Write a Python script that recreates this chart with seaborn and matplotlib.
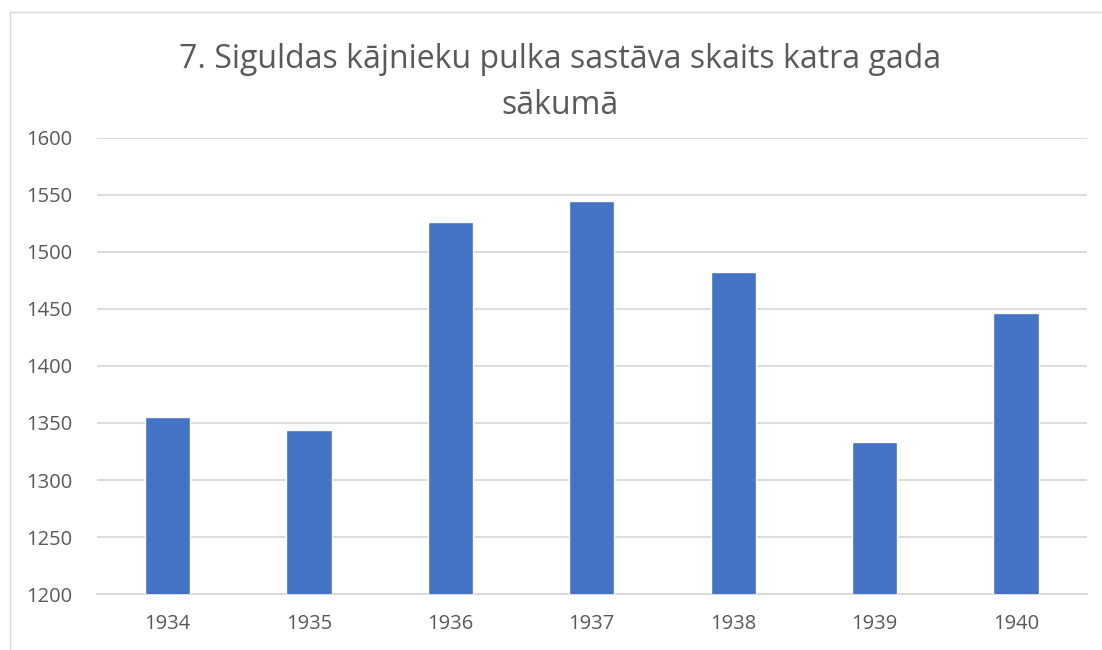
import matplotlib
matplotlib.use("Agg")
import matplotlib.pyplot as plt
import pandas as pd
import seaborn as sns

years = ["1934", "1935", "1936", "1937", "1938", "1939", "1940"]
counts = [1355, 1344, 1526, 1545, 1482, 1333, 1446]
title = "7. Siguldas kājnieku pulka sastāva skaits katra gada\nsākumā"

df = pd.DataFrame({"year": years, "count": counts})

sns.set_style("white")
plt.rcParams["font.family"] = ["Open Sans", "DejaVu Sans"]

fig = plt.figure(figsize=(11.02, 6.5), dpi=100)
ax = fig.add_axes([0.088, 0.086, 0.898, 0.702])

sns.barplot(data=df, x="year", y="count", color="#4472C4", width=0.32,
            saturation=1, ax=ax, zorder=3)

ax.set_ylim(1200, 1600)
ax.set_yticks(range(1200, 1601, 50))
ax.yaxis.grid(True, color="#D9D9D9", linewidth=1.3, zorder=0)
ax.set_axisbelow(True)
for s in ["top", "right", "left"]:
    ax.spines[s].set_visible(False)
ax.spines["bottom"].set_color("#D9D9D9")
ax.spines["bottom"].set_linewidth(1.3)
ax.tick_params(axis="both", length=0, labelsize=14.5, labelcolor="#595959")
ax.tick_params(axis="x", pad=14)
ax.tick_params(axis="y", pad=18)
ax.set_xlabel("")
ax.set_ylabel("")

fig.text(0.508, 0.873, title, ha="center", va="center", fontsize=23,
         color="#595959", linespacing=1.55)

# chart frame
fig.patches.append(plt.Rectangle((0.009, -0.01), 1.0, 0.992, transform=fig.transFigure,
                                 fill=False, edgecolor="#D9D9D9", linewidth=1))

fig.savefig("out.png", dpi=100)
